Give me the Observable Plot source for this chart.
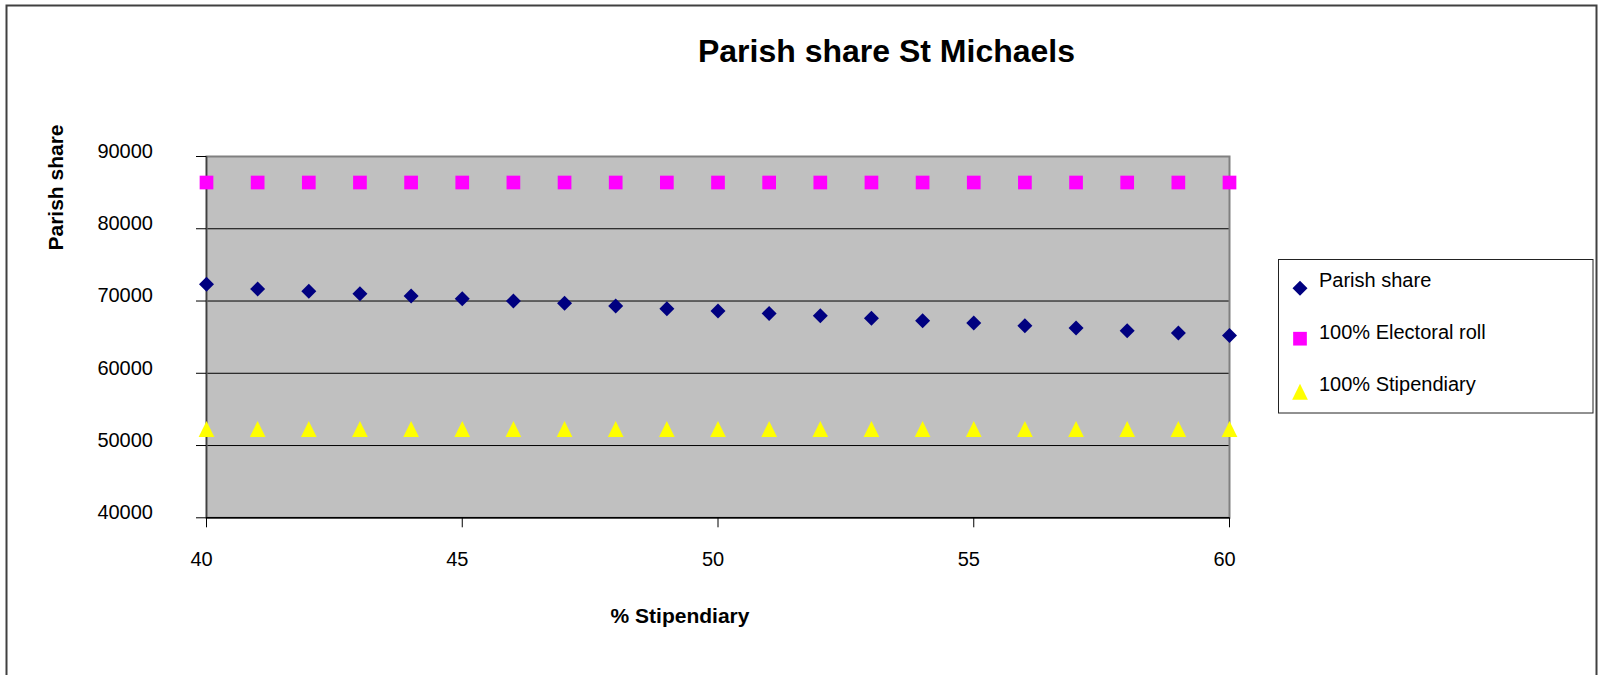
<!DOCTYPE html>
<html>
<head>
<meta charset="utf-8">
<script src="https://cdn.jsdelivr.net/npm/d3@7"></script>
<script src="https://cdn.jsdelivr.net/npm/@observablehq/plot@0.6"></script>
<style>
  html, body { margin: 0; padding: 0; background: #fff; }
  #wrap { position: relative; width: 1602px; height: 675px; overflow: hidden; font-family: "Liberation Sans", Arial, sans-serif; }
  #wrap > svg { position: absolute; left: 0; top: 0; }
</style>
</head>
<body>
<div id="wrap"></div>
<script>
// ---- data ----
const stipendiaryPct = [40, 41, 42, 43, 44, 45, 46, 47, 48, 49, 50, 51, 52, 53, 54, 55, 56, 57, 58, 59, 60];
const parishShare = [72330, 71660, 71340, 71020, 70690, 70320, 70000, 69680, 69310, 68940, 68610, 68290, 67970, 67600, 67270, 66950, 66580, 66260, 65890, 65560, 65240];
const electoralRoll100 = [86400, 86400, 86400, 86400, 86400, 86400, 86400, 86400, 86400, 86400, 86400, 86400, 86400, 86400, 86400, 86400, 86400, 86400, 86400, 86400, 86400];
const stipendiary100 = [52300, 52300, 52300, 52300, 52300, 52300, 52300, 52300, 52300, 52300, 52300, 52300, 52300, 52300, 52300, 52300, 52300, 52300, 52300, 52300, 52300];
const seriesNames = ["Parish share", "100% Electoral roll", "100% Stipendiary"];
const xTicks = [40, 45, 50, 55, 60];
const yTicks = [40000, 50000, 60000, 70000, 80000, 90000];

const colors = ["#000080", "#FF00FF", "#FFFF00"];

// Excel-like marker shapes (fixed pixel size)
const diamondSym = { draw(ctx) { const h = 7.5; ctx.moveTo(0, -h); ctx.lineTo(h, 0); ctx.lineTo(0, h); ctx.lineTo(-h, 0); ctx.closePath(); } };
const squareSym = { draw(ctx) { const h = 6.85; ctx.moveTo(-h, -h); ctx.lineTo(h, -h); ctx.lineTo(h, h); ctx.lineTo(-h, h); ctx.closePath(); } };
const triangleSym = { draw(ctx) { const w = 7.85, h = 8; ctx.moveTo(0, -h); ctx.lineTo(w, h); ctx.lineTo(-w, h); ctx.closePath(); } };
const symbols = [diamondSym, squareSym, triangleSym];

const mk = (vals) => stipendiaryPct.map((x, i) => ({ x, y: vals[i] }));
const seriesData = [mk(parishShare), mk(electoralRoll100), mk(stipendiary100)];

const chart = Plot.plot({
  width: 1602,
  height: 675,
  marginLeft: 206,
  marginRight: 373,
  marginTop: 156,
  marginBottom: 157.7,
  style: { fontFamily: "'Liberation Sans', Arial, sans-serif", fontSize: "20px", background: "transparent", color: "#000" },
  x: { domain: [40, 60] },
  y: { domain: [40000, 90000] },
  marks: [
    Plot.frame({ fill: "#C0C0C0", stroke: null }),
    Plot.gridY(yTicks.filter(d => d > 40000 && d < 90000), { stroke: "#000", strokeOpacity: 1, strokeWidth: 1 }),
    Plot.frame({ stroke: "#808080", strokeWidth: 2, fill: null }),
    Plot.ruleX([40], { stroke: "#404040", strokeWidth: 1.5 }),
    Plot.ruleY([40000], { stroke: "#000", strokeWidth: 1.5 }),
    // tick lines
    Plot.axisY({ ticks: yTicks, tickSize: 10, tickFormat: () => "", label: null, stroke: "#000", strokeOpacity: 1 }),
    Plot.axisX({ ticks: xTicks, tickSize: 10, tickFormat: () => "", label: null, stroke: "#000", strokeOpacity: 1 }),
    // tick labels
    Plot.axisY({ ticks: yTicks, tickSize: 0, tickPadding: 53.5, dy: -5, label: null, tickFormat: d3.format("d") }),
    Plot.axisX({ ticks: xTicks, tickSize: 0, tickPadding: 33.5, dx: -5, label: null, tickFormat: d3.format("d") }),
    ...seriesData.map((data, i) => Plot.dot(data, { x: "x", y: "y", symbol: symbols[i], fill: colors[i], r: 7 }))
  ]
});

const wrap = document.getElementById("wrap");
wrap.appendChild(chart);

// ---- overlay: border, title, axis titles, legend ----
const ov = d3.select(wrap).append("svg")
  .attr("width", 1602).attr("height", 675)
  .style("font-family", "'Liberation Sans', Arial, sans-serif");

ov.append("rect").attr("x", 6.5).attr("y", 5.5).attr("width", 1590).attr("height", 720)
  .attr("fill", "none").attr("stroke", "#404040").attr("stroke-width", 2);

ov.append("text").attr("x", 886.5).attr("y", 61.7).attr("text-anchor", "middle")
  .attr("font-size", 32).attr("font-weight", "bold").text("Parish share St Michaels");

ov.append("text").attr("transform", "translate(63,187.5) rotate(-90)").attr("text-anchor", "middle")
  .attr("font-size", 21).attr("font-weight", "bold").text("Parish share");

ov.append("text").attr("x", 680).attr("y", 622.7).attr("text-anchor", "middle")
  .attr("font-size", 21).attr("font-weight", "bold").text("% Stipendiary");

const lg = ov.append("g");
lg.append("rect").attr("x", 1278.5).attr("y", 259.5).attr("width", 314.5).attr("height", 153.5)
  .attr("fill", "#fff").attr("stroke", "#222").attr("stroke-width", 1);
const markerY = [288.3, 338.7, 391.7];
const textY = [287.3, 339.3, 391.3];
seriesNames.forEach((name, i) => {
  const p = d3.path(); symbols[i].draw(p);
  lg.append("path").attr("d", p.toString()).attr("transform", `translate(1300,${markerY[i]})`).attr("fill", colors[i]);
  lg.append("text").attr("x", 1319).attr("y", textY[i]).attr("font-size", 20).text(name);
});
</script>
</body>
</html>
